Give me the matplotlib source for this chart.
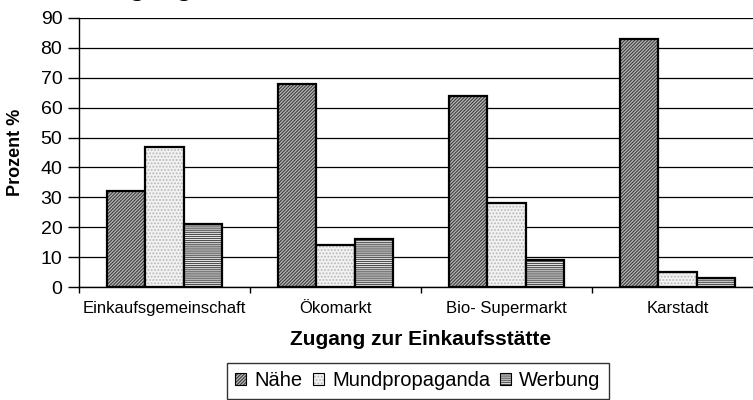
import numpy as np
import matplotlib
matplotlib.use('Agg')
import matplotlib.pyplot as plt

plt.rcParams['font.family'] = ['Liberation Sans', 'DejaVu Sans']
plt.rcParams['hatch.linewidth'] = 0.9

# Daten
kategorien = ['Einkaufsgemeinschaft', 'Ökomarkt', 'Bio- Supermarkt', 'Karstadt']
naehe = [32, 68, 64, 83]
mundpropaganda = [47, 14, 28, 5]
werbung = [21, 16, 9, 3]
serien = ['Nähe', 'Mundpropaganda', 'Werbung']
y_ticks = [0, 10, 20, 30, 40, 50, 60, 70, 80, 90]

fig = plt.figure(figsize=(7.53, 4.0), dpi=100)
ax = fig.add_axes([79 / 753, 113 / 400, 684 / 753, 269 / 400])

x = np.arange(len(kategorien))
breite = 0.225

# estilos de cada serie: relleno, trama, color de la trama
rellenos = ['#3c3c3c', '#f2f2f2', '#ffffff']
tramas = ['//////////', '.....', '--------']
colores_trama = ['#b8b8b8', '#b8b8b8', '#505050']

handles = []
for i, vals in enumerate([naehe, mundpropaganda, werbung]):
    barras = ax.bar(x + (i - 1) * breite, vals, breite, label=serien[i],
                    facecolor=rellenos[i], edgecolor='black',
                    linewidth=1.6, zorder=3)
    for b in barras:
        b.set_hatch(tramas[i])
        b._hatch_color = matplotlib.colors.to_rgba(colores_trama[i])
    handles.append(barras)

ax.set_xlim(-0.5, len(kategorien) - 0.5)
ax.set_ylim(0, 90)
ax.set_yticks(y_ticks)
ax.yaxis.grid(True, color='black', linewidth=0.9, zorder=0)
ax.set_axisbelow(True)

ax.set_xticks(x)
ax.set_xticklabels(kategorien, fontsize=12)
ax.tick_params(axis='x', length=0, pad=10)
ax.set_xticks(np.arange(-0.5, len(kategorien), 1.0), minor=True)
ax.tick_params(axis='x', which='minor', length=4.5, width=1, direction='out')
ax.tick_params(axis='y', labelsize=14, length=8, width=1, pad=4)

for s in ['top', 'right']:
    ax.spines[s].set_visible(False)
ax.spines['left'].set_linewidth(1)
ax.spines['bottom'].set_linewidth(1)

ax.set_ylabel('Prozent %', fontsize=13, fontweight='bold')
ax.yaxis.set_label_coords(-55 / 684, 0.5)
ax.set_xlabel('Zugang zur Einkaufsstätte', fontsize=15, fontweight='bold')
ax.xaxis.set_label_coords(0.5, -(330 - 287) / 269)
ax.xaxis.label.set_va('top')

# titulo cortado arriba (solo se ven los trazos de la g)
fig.text(97 / 753, 1 + 4.0 / 400, 'Zugang', fontsize=19, fontweight='bold',
         va='baseline', ha='left')

leg = fig.legend(handles=handles, labels=serien, loc='center',
                 bbox_to_anchor=(418 / 753, 1 - 381 / 400), ncol=3,
                 fontsize=14.5, frameon=True, fancybox=False, handlelength=0.55,
                 handleheight=0.55, handletextpad=0.4, columnspacing=0.5,
                 borderpad=0.4, borderaxespad=0)
leg.get_frame().set_edgecolor('black')
leg.get_frame().set_linewidth(1)
for h in leg.legend_handles:
    h.set_linewidth(0.8)

fig.savefig('out.png', dpi=100)
